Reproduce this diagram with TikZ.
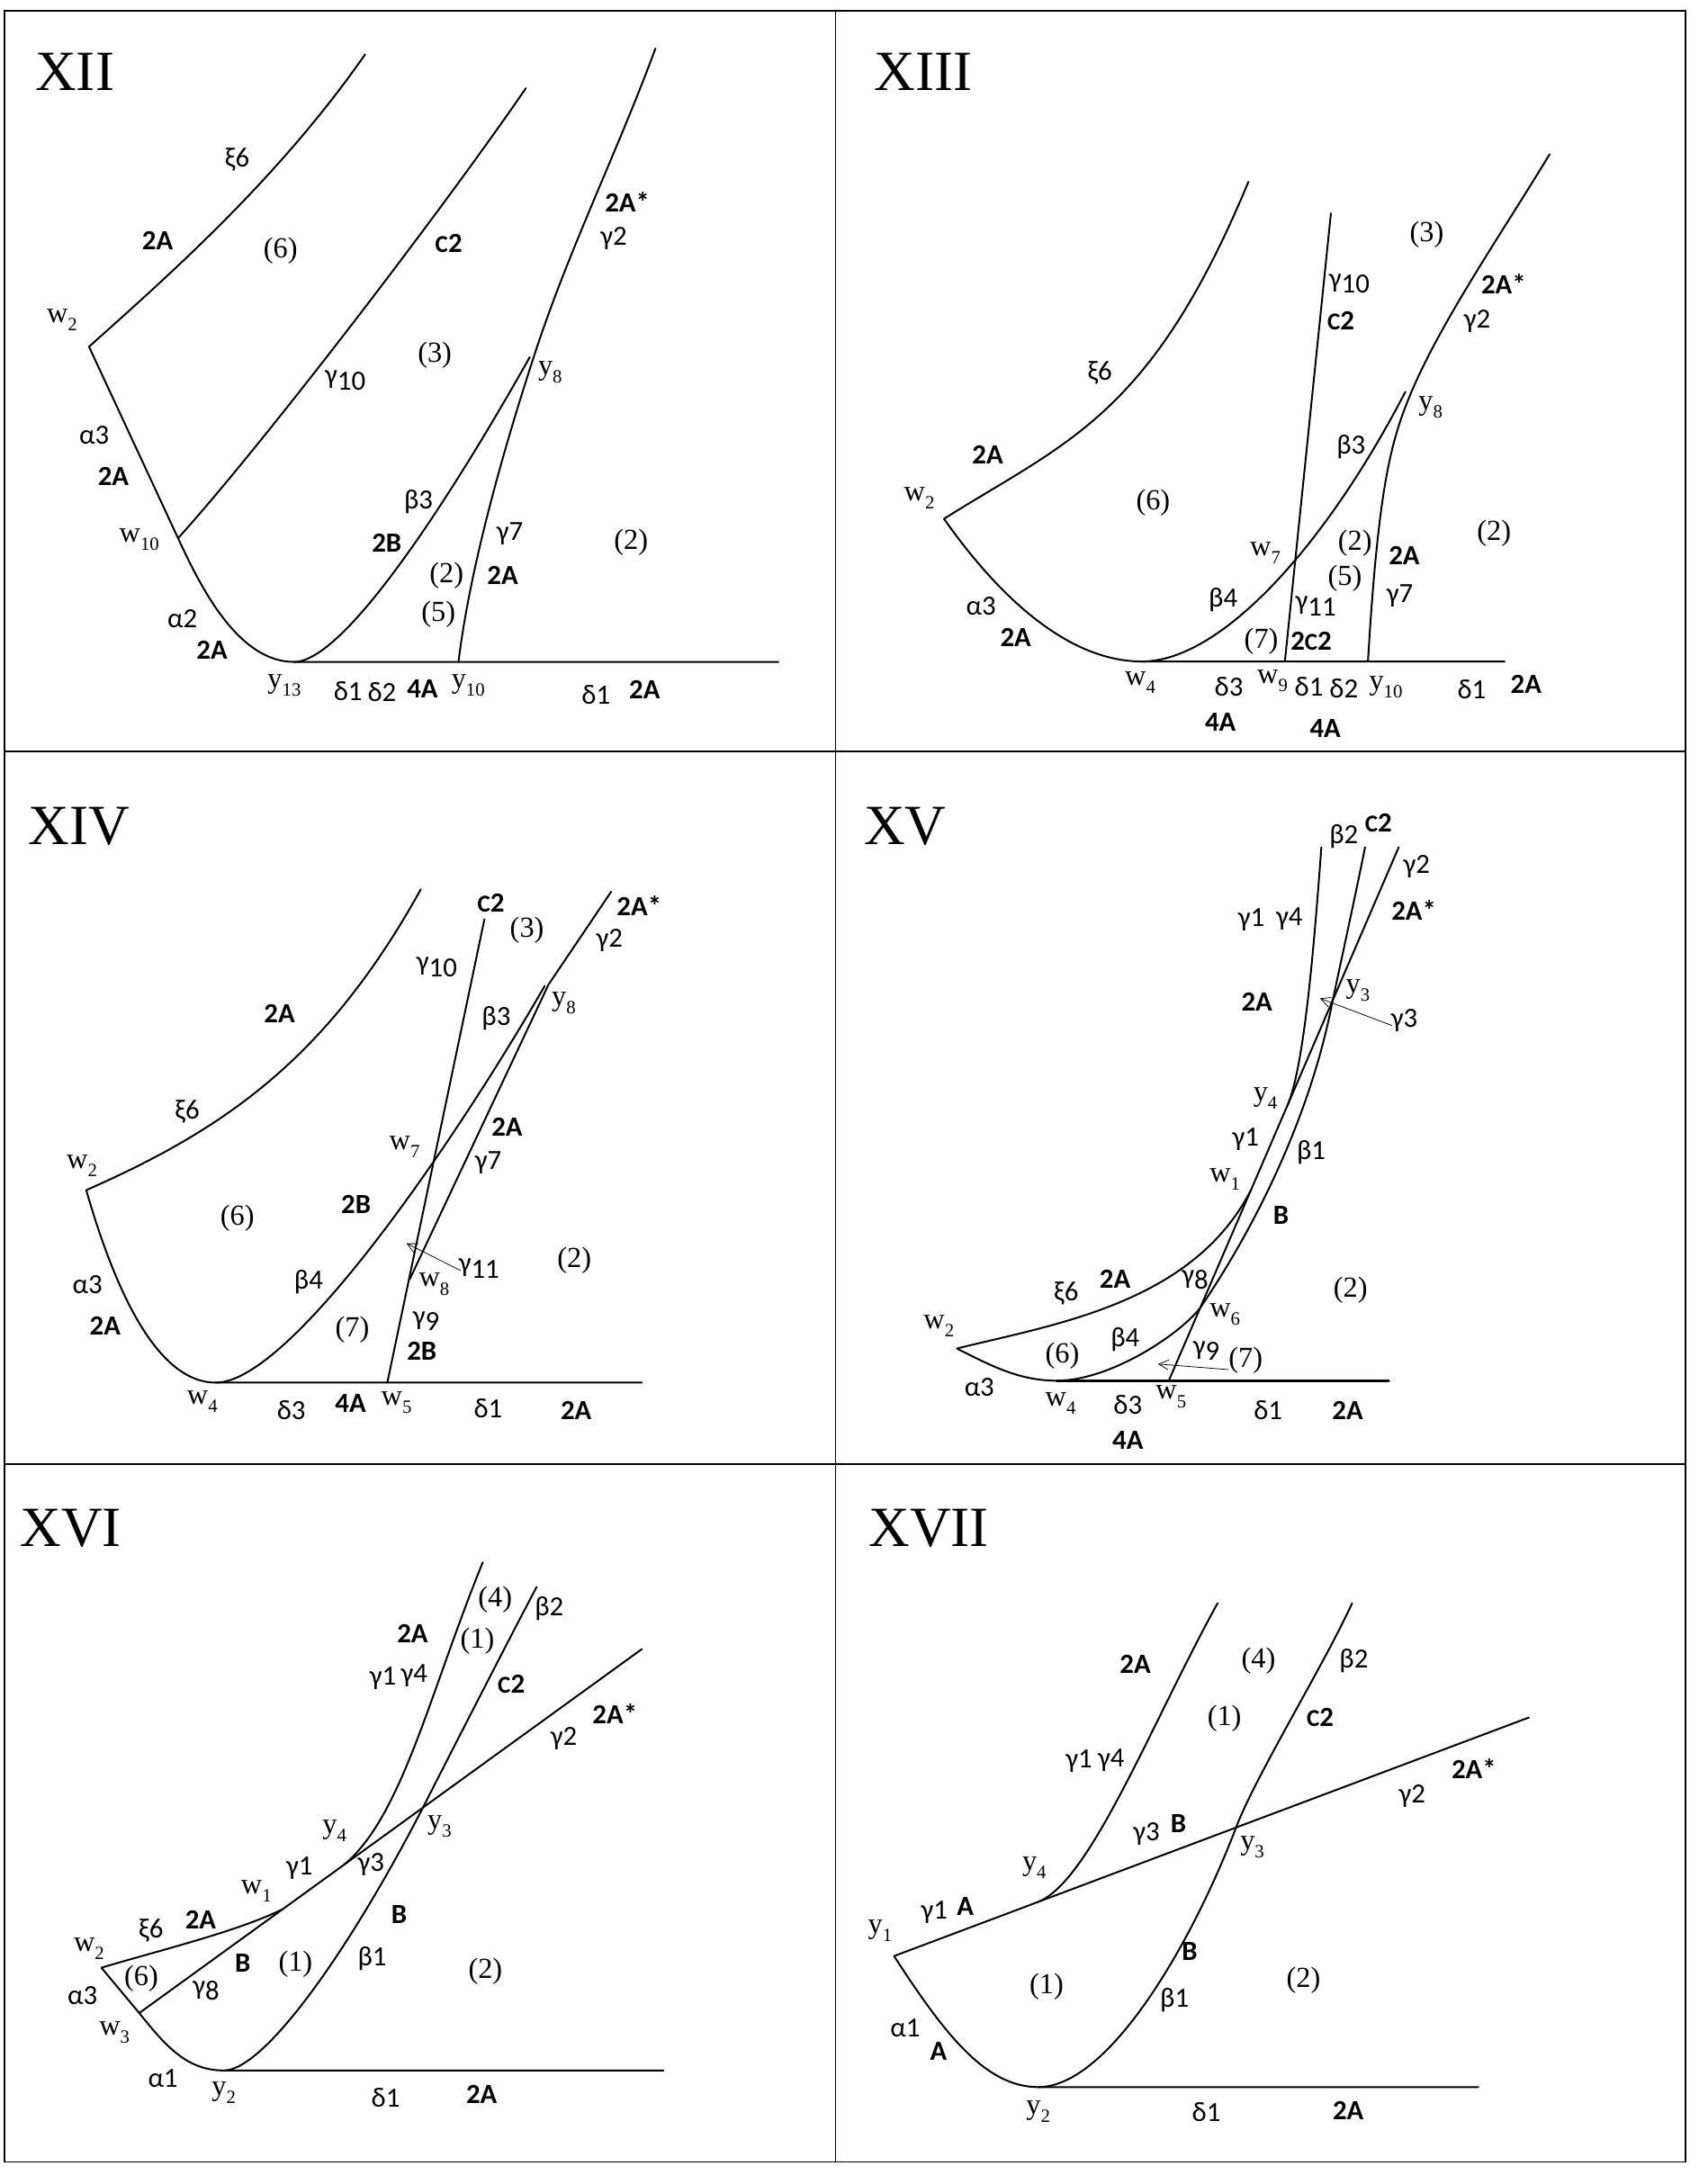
\documentclass[tikz,border=0pt]{standalone}
\usepackage{fontspec}
\setmainfont{Liberation Serif}
\newfontfamily\carl{Carlito}
\usetikzlibrary{arrows.meta}
\newcommand\gkf{\carl\fontsize{20}{20}\selectfont}
\newcommand\bdf{\carl\bfseries\fontsize{20}{20}\selectfont}
\newcommand\srf{\rmfamily\fontsize{21}{21}\selectfont}
\newcommand\titlef{\rmfamily\fontsize{41}{41}\selectfont}
\newcommand\lsub[1]{\raisebox{-0.28em}{\fontsize{13.5}{13.5}\selectfont #1}}
\newcommand\gsub[1]{\raisebox{-0.22em}{#1}}
\newcommand\smc{{\fontsize{17.5}{17.5}\selectfont C}}
\newcommand\putl[4]{\node[#1] (#2) at (#3) {#4};}
\tikzset{
 crv/.style={line width=1.3pt, line cap=round, line join=round},
 frm/.style={line width=1.2pt},
 gk/.style={font=\gkf, inner sep=0pt},
 bd/.style={font=\bdf, inner sep=0pt},
 sr/.style={font=\srf, inner sep=0pt},
 ttl/.style={font=\titlef, inner sep=0pt},
 arr/.style={line width=0.5pt, -{Straight Barb[length=7pt,width=7pt]}},
}
\begin{document}
\begin{tikzpicture}[x=1pt,y=-1pt]
\useasboundingbox (0,0) rectangle (1231,1568.4);
% frame
\draw[frm] (3,8) rectangle (1215.6,1559);
\draw[frm] (602.5,8) -- (602.5,1559);
\draw[frm] (3,542) -- (1215.6,542);
\draw[frm] (3,1056) -- (1215.6,1056);

% ---------------- XII ----------------
\coordinate (A-w2) at (64.2,250);
\coordinate (A-w10) at (128.4,388.1);
\coordinate (A-y13) at (212,477.3);
\coordinate (A-y10) at (330.6,477.3);
\coordinate (A-y8) at (385,257);
\coordinate (A-xt) at (263.3,39.2);
\coordinate (A-gt) at (379.2,63.6);
\coordinate (A-g2t) at (472.6,35);
\coordinate (A-bt) at (382,257.5);
\coordinate (A-be) at (561.3,477.3);
\draw[crv] (A-xt) .. controls (200,130) and (120,200) .. (A-w2) -- (A-w10) .. controls (145.2,424.5) and (172,477.3) .. (A-y13) -- (A-be);
\draw[crv] (A-w10) .. controls (190,320) and (320,150) .. (A-gt);
\draw[crv] (A-y13) .. controls (250,477.3) and (330,350) .. (A-bt);
\draw[crv] (A-g2t) .. controls (445,110) and (410,180) .. (A-y8) .. controls (369.5,304.5) and (340,400) .. (A-y10);
\putl{ttl}{t12}{54,52}{XII}
\putl{gk}{a1}{171,115.4}{ξ6}
\putl{bd}{a2}{113.6,173.8}{2A}
\putl{sr}{a3}{202.3,180.8}{(6)}
\putl{bd}{a4}{323.6,175.5}{\smc2}
\putl{bd}{a5}{452.4,145.5}{2A*}
\putl{gk}{a6}{442.6,172}{γ2}
\putl{sr}{a7}{44.7,230.8}{w\lsub{2}}
\putl{sr}{a8}{313.5,256.3}{(3)}
\putl{gk}{a9}{249,274.5}{γ\gsub{10}}
\putl{sr}{a10}{396.7,268.5}{y\lsub{8}}
\putl{gk}{a11}{68,313.6}{α3}
\putl{bd}{a12}{81.7,343.4}{2A}
\putl{gk}{a13}{301.8,361.9}{β3}
\putl{sr}{a14}{100.4,389.2}{w\lsub{10}}
\putl{bd}{a15}{278.9,391.6}{2B}
\putl{gk}{a16}{367.6,384.6}{γ7}
\putl{sr}{a17}{455,391}{(2)}
\putl{sr}{a18}{322,415.4}{(2)}
\putl{bd}{a19}{362.5,414.7}{2A}
\putl{sr}{a20}{316.2,442.7}{(5)}
\putl{gk}{a21}{131.5,446.5}{α2}
\putl{bd}{a22}{152.9,468.5}{2A}
\putl{sr}{a23}{205,494}{y\lsub{13}}
\putl{gk}{a24}{250.9,498.3}{δ1}
\putl{gk}{a25}{275.4,499.3}{δ2}
\putl{bd}{a26}{304.6,496.5}{4A}
\putl{sr}{a27}{337.6,494}{y\lsub{10}}
\putl{gk}{a28}{429.8,500.7}{δ1}
\putl{bd}{a29}{464.8,497.2}{2A}

% ---------------- XIII ----------------
\coordinate (B-w2) at (680.7,374.1);
\coordinate (B-xt) at (900.2,131.1);
\coordinate (B-w4) at (823.4,477);
\coordinate (B-be) at (1085,477);
\coordinate (B-bt) at (1013.4,282.5);
\coordinate (B-gt) at (959.7,153.8);
\coordinate (B-w9) at (926.5,477);
\coordinate (B-g2t) at (1117.4,111.2);
\coordinate (B-y8) at (1017.5,283.2);
\coordinate (B-y10) at (986.4,477);
\draw[crv] (B-xt) .. controls (830,300) and (770,318) .. (B-w2) .. controls (720,430) and (770,477) .. (B-w4) -- (B-be);
\draw[crv] (B-w4) .. controls (880,477) and (955,395) .. (B-bt);
\draw[crv] (B-gt) -- (B-w9);
\draw[crv] (B-g2t) .. controls (1085,165) and (1040,230) .. (B-y8) .. controls (1003,318) and (994,350) .. (B-y10);
\putl{ttl}{t13}{666,52}{XIII}
\putl{sr}{b1}{1028.8,168.9}{(3)}
\putl{gk}{b2}{973,204.5}{γ\gsub{10}}
\putl{bd}{b3}{1084.2,204.5}{2A*}
\putl{bd}{b4}{966.9,231.5}{\smc2}
\putl{gk}{b5}{1065.2,231.5}{γ2}
\putl{gk}{b6}{793.1,269.2}{ξ6}
\putl{sr}{b7}{1031.6,293.7}{y\lsub{8}}
\putl{gk}{b8}{974.2,322.4}{β3}
\putl{bd}{b9}{712.2,328}{2A}
\putl{sr}{b10}{662.9,359.4}{w\lsub{2}}
\putl{sr}{b11}{831.5,362.6}{(6)}
\putl{sr}{b12}{1077.3,384.6}{(2)}
\putl{sr}{b13}{912.4,398.6}{w\lsub{7}}
\putl{sr}{b14}{977.1,391.6}{(2)}
\putl{bd}{b15}{1012.6,400.3}{2A}
\putl{sr}{b16}{969.8,416.8}{(5)}
\putl{gk}{b17}{882,432.9}{β4}
\putl{gk}{b18}{707.4,437.1}{α3}
\putl{gk}{b19}{948.8,437.1}{γ\gsub{11}}
\putl{gk}{b20}{1009.4,429.4}{γ7}
\putl{bd}{b21}{732.4,459.8}{2A}
\putl{sr}{b22}{909.5,462.6}{(7)}
\putl{bd}{b23}{945.5,462.2}{2\smc2}
\putl{sr}{b24}{822.2,492.3}{w\lsub{4}}
\putl{gk}{b25}{886.1,495.5}{δ3}
\putl{sr}{b26}{917.6,491.3}{w\lsub{9}}
\putl{gk}{b27}{943.9,495.5}{δ1}
\putl{gk}{b28}{969,496.5}{δ2}
\putl{sr}{b29}{999.3,495.8}{y\lsub{10}}
\putl{gk}{b30}{1061.2,497.2}{δ1}
\putl{bd}{b31}{1100.4,493.7}{2A}
\putl{bd}{b32}{880,521}{4A}
\putl{bd}{b33}{955.6,525.5}{4A}

% ---------------- XIV ----------------
\coordinate (C-w2) at (62.2,858.2);
\coordinate (C-xt) at (303.4,641.3);
\coordinate (C-w4) at (155.6,997);
\coordinate (C-be) at (462.9,997);
\coordinate (C-bt) at (392.8,710.9);
\coordinate (C-gt) at (349.3,662.9);
\coordinate (C-w5) at (279.3,997);
\coordinate (C-g2t) at (440.7,643);
\coordinate (C-y8) at (395.5,710);
\coordinate (C-w8) at (295.4,922.6);
\coordinate (C-a1) at (332,916.1);
\coordinate (C-a2) at (293.1,896.6);
\draw[crv] (C-xt) .. controls (235,765) and (160,815) .. (C-w2) .. controls (80,920) and (110,997) .. (C-w4) -- (C-be);
\draw[crv] (C-w4) .. controls (210,997) and (330,820) .. (C-bt);
\draw[crv] (C-gt) -- (C-w5);
\draw[crv] (C-g2t) -- (C-y8) -- (C-w8);
\draw[arr] (C-a1) -- (C-a2);
\putl{ttl}{t14}{57,596}{XIV}
\putl{bd}{c1}{354,651.3}{\smc2}
\putl{sr}{c2}{380,670.5}{(3)}
\putl{bd}{c3}{460.9,653}{2A*}
\putl{gk}{c4}{439.5,677.8}{γ2}
\putl{gk}{c5}{315,697.6}{γ\gsub{10}}
\putl{sr}{c6}{406.5,723.5}{y\lsub{8}}
\putl{bd}{c7}{201.5,730.7}{2A}
\putl{gk}{c8}{357.8,734}{β3}
\putl{gk}{c9}{135,801.9}{ξ6}
\putl{bd}{c10}{365.6,812.8}{2A}
\putl{sr}{c11}{59.1,840.7}{w\lsub{2}}
\putl{sr}{c12}{291.7,826.8}{w\lsub{7}}
\putl{gk}{c13}{352,838.3}{γ7}
\putl{bd}{c14}{256.7,868.8}{2B}
\putl{sr}{c15}{171.1,878.1}{(6)}
\putl{sr}{c16}{414.2,908.9}{(2)}
\putl{gk}{c17}{345.4,914.5}{γ\gsub{11}}
\putl{gk}{c18}{222.5,924.4}{β4}
\putl{gk}{c19}{63,926.1}{α3}
\putl{sr}{c20}{313.1,926.1}{w\lsub{8}}
\putl{gk}{c21}{307.3,952.6}{γ\gsub{9}}
\putl{sr}{c22}{254,959.2}{(7)}
\putl{bd}{c23}{75.8,955.9}{2A}
\putl{bd}{c24}{304.2,974.1}{2B}
\putl{sr}{c25}{145.9,1010.5}{w\lsub{4}}
\putl{gk}{c26}{210,1017.1}{δ3}
\putl{bd}{c27}{252.8,1012.2}{4A}
\putl{sr}{c28}{285.9,1011.2}{w\lsub{5}}
\putl{gk}{c29}{352,1015.5}{δ1}
\putl{bd}{c30}{415.4,1017.1}{2A}

% ---------------- XV ----------------
\coordinate (D-w2) at (690,972.4);
\coordinate (D-w4) at (762,995.6);
\coordinate (D-be) at (1001.3,995.6);
\coordinate (D-w1) at (902,858.2);
\coordinate (D-gt) at (1008.6,610.9);
\coordinate (D-w5) at (842.8,995.6);
\coordinate (D-w6) at (865.5,943);
\coordinate (D-y3) at (961,721.3);
\coordinate (D-bt) at (984.3,610.9);
\coordinate (D-ct) at (952.8,611);
\coordinate (D-y4) at (928.4,797);
\coordinate (D-a1) at (1003.7,739.5);
\coordinate (D-a2) at (951.8,719.9);
\coordinate (D-a3) at (885.8,987.6);
\coordinate (D-a4) at (835,983.6);
\draw[crv] (D-w1) .. controls (860,940) and (760,955) .. (D-w2) .. controls (715,985) and (735,995.6) .. (D-w4);
\draw[crv, line width=2.2pt] (D-w4) -- (D-be);
\draw[crv] (D-gt) -- (D-w5);
\draw[crv] (D-w4) .. controls (800,995.6) and (850,963) .. (D-w6) .. controls (905,885) and (945,805) .. (D-y3) .. controls (968.3,687) and (979.5,635.5) .. (D-bt);
\draw[crv] (D-ct) .. controls (947,690) and (940,770) .. (D-y4);
\draw[arr] (D-a1) -- (D-a2);
\draw[arr] (D-a3) -- (D-a4);
\putl{ttl}{t15}{652.6,596}{XV}
\putl{gk}{d1}{969,603.3}{β2}
\putl{bd}{d2}{994,593.3}{\smc2}
\putl{gk}{d3}{1021.5,624.8}{γ2}
\putl{gk}{d4}{902.3,662.9}{γ1}
\putl{gk}{d5}{929.8,662.9}{γ4}
\putl{bd}{d6}{1019.5,656.2}{2A*}
\putl{sr}{d7}{979.1,714.2}{y\lsub{3}}
\putl{bd}{d8}{906.3,722.5}{2A}
\putl{gk}{d9}{1012.6,735.7}{γ3}
\putl{sr}{d10}{912.4,792}{y\lsub{4}}
\putl{gk}{d11}{898.2,821.8}{γ1}
\putl{gk}{d12}{945.5,831.1}{β1}
\putl{sr}{d13}{883.3,850.6}{w\lsub{1}}
\putl{bd}{d14}{923.7,876.4}{B}
\putl{bd}{d15}{804,922.1}{2A}
\putl{gk}{d16}{768.8,932.7}{ξ6}
\putl{gk}{d17}{861.8,922.8}{γ\gsub{8}}
\putl{sr}{d18}{973.8,930.1}{(2)}
\putl{sr}{d19}{883.3,947.6}{w\lsub{6}}
\putl{sr}{d20}{677,955.9}{w\lsub{2}}
\putl{gk}{d21}{811.3,965.8}{β4}
\putl{sr}{d22}{766,977.4}{(6)}
\putl{gk}{d23}{869.9,974.1}{γ\gsub{9}}
\putl{sr}{d24}{898.2,980.7}{(7)}
\putl{gk}{d25}{706.2,1000.6}{α3}
\putl{sr}{d26}{764.8,1012.2}{w\lsub{4}}
\putl{gk}{d27}{813.3,1013.2}{δ3}
\putl{sr}{d28}{844.4,1007.2}{w\lsub{5}}
\putl{gk}{d29}{914.4,1017.1}{δ1}
\putl{bd}{d30}{971.8,1017.1}{2A}
\putl{bd}{d31}{813.3,1038.6}{4A}

% ---------------- XVI ----------------
\coordinate (E-w2) at (73.1,1418.9);
\coordinate (E-w3) at (100.4,1451.6);
\coordinate (E-y2) at (161.4,1493);
\coordinate (E-be) at (478.4,1493);
\coordinate (E-w1) at (203.3,1377);
\coordinate (E-lt) at (462.9,1189.1);
\coordinate (E-y3) at (305,1303.4);
\coordinate (E-bt) at (387,1144.3);
\coordinate (E-y4) at (248,1344.7);
\coordinate (E-ct) at (348.1,1126.6);
\draw[crv] (E-w1) .. controls (170,1393) and (120,1405) .. (E-w2) -- (E-w3) .. controls (120,1476) and (135,1493) .. (E-y2) -- (E-be);
\draw[crv] (E-w3) -- (E-lt);
\draw[crv] (E-y2) .. controls (190,1493) and (250,1410) .. (E-y3) .. controls (323,1268) and (368,1180) .. (E-bt);
\draw[crv] (E-y4) .. controls (290,1310) and (310,1220) .. (E-ct);
\putl{ttl}{t16}{51,1102}{XVI}
\putl{sr}{e1}{357.1,1153.3}{(4)}
\putl{gk}{e2}{396,1160}{β2}
\putl{bd}{e3}{297.5,1177.7}{2A}
\putl{sr}{e4}{344.2,1183.4}{(1)}
\putl{gk}{e5}{276.2,1210.1}{γ1}
\putl{gk}{e6}{298.7,1208.4}{γ4}
\putl{bd}{e7}{368.7,1214.5}{\smc2}
\putl{bd}{e8}{443.4,1235.8}{2A*}
\putl{gk}{e9}{406.5,1253.5}{γ2}
\putl{sr}{e10}{241.2,1320.3}{y\lsub{4}}
\putl{sr}{e11}{317,1317}{y\lsub{3}}
\putl{gk}{e12}{215.9,1347}{γ1}
\putl{gk}{e13}{267.6,1344.4}{γ3}
\putl{sr}{e14}{184.8,1363.7}{w\lsub{1}}
\putl{bd}{e15}{287.8,1380.5}{B}
\putl{bd}{e16}{144.7,1384.5}{2A}
\putl{gk}{e17}{108.9,1392.1}{ξ6}
\putl{sr}{e18}{64.2,1405.5}{w\lsub{2}}
\putl{gk}{e19}{268.4,1412.2}{β1}
\putl{bd}{e20}{175,1415.5}{B}
\putl{sr}{e21}{213.1,1416.2}{(1)}
\putl{sr}{e22}{101.9,1426.5}{(6)}
\putl{sr}{e23}{350,1421.5}{(2)}
\putl{gk}{e24}{59.5,1438.9}{α3}
\putl{gk}{e25}{148.6,1435.5}{γ\gsub{8}}
\putl{sr}{e26}{82.5,1465.6}{w\lsub{3}}
\putl{gk}{e27}{117.5,1499}{α1}
\putl{sr}{e28}{161.4,1509}{y\lsub{2}}
\putl{gk}{e29}{278.1,1512.4}{δ1}
\putl{bd}{e30}{347.3,1510}{2A}

% ---------------- XVII ----------------
\coordinate (F-y1) at (644.7,1410.5);
\coordinate (F-lt) at (1102.4,1238.5);
\coordinate (F-y2) at (748.6,1505);
\coordinate (F-be) at (1066,1505);
\coordinate (F-y3) at (891.3,1317.8);
\coordinate (F-bt) at (975,1156);
\coordinate (F-y4) at (748.6,1371.4);
\coordinate (F-ct) at (878,1156);
\draw[crv] (F-lt) -- (F-y1) .. controls (680,1465) and (710,1505) .. (F-y2) -- (F-be);
\draw[crv] (F-y2) .. controls (800,1505) and (860,1400) .. (F-y3) .. controls (905.5,1280.4) and (955,1200) .. (F-bt);
\draw[crv] (F-y4) .. controls (786,1357) and (829.8,1243.6) .. (F-ct);
\putl{ttl}{t17}{669.8,1102}{XVII}
\putl{bd}{f1}{818.6,1200.1}{2A}
\putl{sr}{f2}{907.5,1197.8}{(4)}
\putl{gk}{f3}{976.2,1197.8}{β2}
\putl{sr}{f4}{882.9,1239.2}{(1)}
\putl{bd}{f5}{952,1238.5}{\smc2}
\putl{gk}{f6}{778,1270.2}{γ1}
\putl{gk}{f7}{801.2,1269.2}{γ4}
\putl{bd}{f8}{1062.8,1275.2}{2A*}
\putl{gk}{f9}{1018.3,1295.3}{γ2}
\putl{gk}{f10}{826.7,1322.7}{γ3}
\putl{bd}{f11}{849.7,1315.3}{B}
\putl{sr}{f12}{903,1332}{y\lsub{3}}
\putl{sr}{f13}{745.8,1347}{y\lsub{4}}
\putl{gk}{f14}{673.8,1378.8}{γ1}
\putl{bd}{f15}{696.1,1374.8}{A}
\putl{sr}{f16}{634.6,1392.1}{y\lsub{1}}
\putl{bd}{f17}{857.8,1407.2}{B}
\putl{sr}{f18}{754.7,1432.9}{(1)}
\putl{sr}{f19}{939.9,1428.2}{(2)}
\putl{gk}{f20}{846.9,1442.2}{β1}
\putl{gk}{f21}{652.8,1462.3}{α1}
\putl{bd}{f22}{676.7,1479}{A}
\putl{sr}{f23}{748.6,1522.4}{y\lsub{2}}
\putl{gk}{f24}{869.9,1523.1}{δ1}
\putl{bd}{f25}{972.2,1521.7}{2A}
\end{tikzpicture}
\end{document}
